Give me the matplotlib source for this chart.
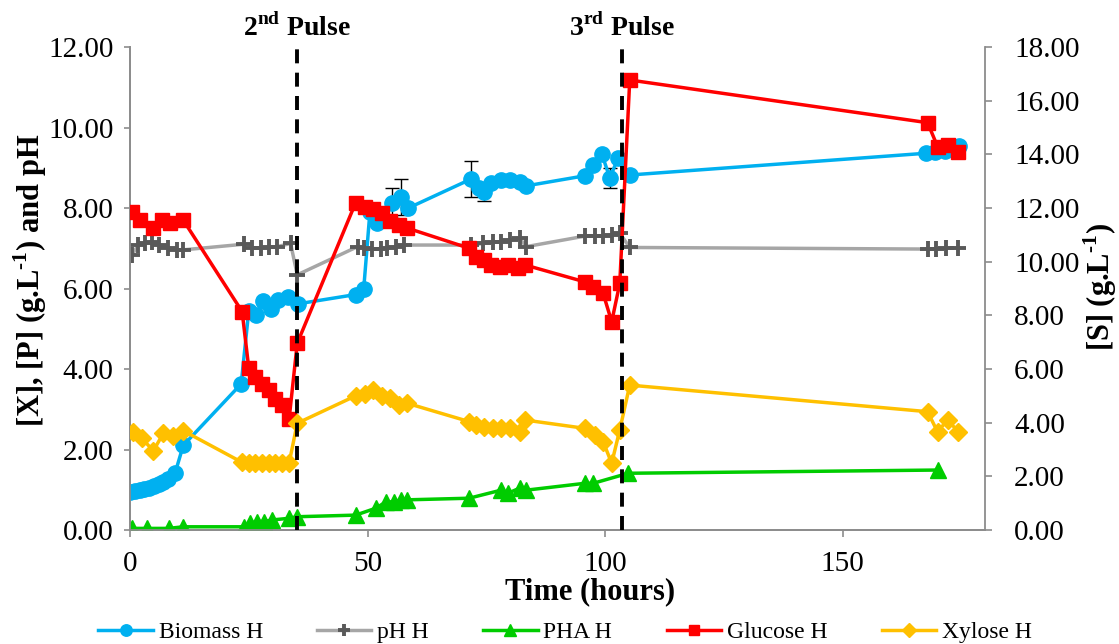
import numpy as np
import matplotlib
matplotlib.use("Agg")
from matplotlib import pyplot as plt
from matplotlib.transforms import blended_transform_factory

plt.rcParams["font.family"] = ["Liberation Serif", "DejaVu Serif"]
plt.rcParams["mathtext.fontset"] = "custom"
plt.rcParams["mathtext.rm"] = "Liberation Serif:bold"
plt.rcParams["mathtext.bf"] = "Liberation Serif:bold"

# ------------------------------------------------------------------------------
#  Fermentation data, reactor H
# ------------------------------------------------------------------------------
# Biomass [X] (g/L), left axis
t_bio = [0, 1, 2, 3, 4, 5, 6, 7, 8, 9.5, 11.2,
         23.4, 25.0, 26.6, 28.0, 29.6, 31.2, 33.2, 35.4,
         47.5, 49.2, 50.5, 52.0, 55.2, 57.0, 58.6,
         71.8, 73.4, 74.6, 76.0, 78.0, 80.0, 82.0, 83.4,
         95.7, 97.5, 99.3, 101.0, 102.8, 105.2,
         167.5, 169.5, 171.5, 174.5]
biomass = [0.95, 0.97, 1.00, 1.02, 1.05, 1.10, 1.15, 1.20, 1.27, 1.42, 2.10,
           3.63, 5.45, 5.35, 5.70, 5.50, 5.72, 5.80, 5.62,
           5.85, 6.00, 7.90, 7.62, 8.12, 8.27, 8.00,
           8.72, 8.50, 8.40, 8.62, 8.70, 8.70, 8.65, 8.55,
           8.80, 9.07, 9.35, 8.75, 9.25, 8.82,
           9.36, 9.38, 9.42, 9.55]
biomass_err = [0, 0, 0, 0, 0, 0, 0, 0, 0, 0, 0,
               0, 0, 0, 0, 0, 0, 0, 0,
               0, 0, 0, 0, 0.38, 0.45, 0,
               0.45, 0, 0.22, 0, 0, 0, 0, 0,
               0, 0, 0, 0.25, 0, 0,
               0, 0, 0, 0]

# pH, left axis
t_ph = [0.4, 1.7, 3.2, 4.6, 6.0, 8.0, 9.9, 11.2,
        23.9, 25.7, 27.5, 29.2, 31.0, 33.8, 35.2,
        47.9, 49.3, 51.0, 52.8, 54.2, 56.0, 57.7,
        71.8, 74.3, 76.4, 78.1, 79.9, 82.0, 83.4,
        95.7, 97.8, 99.6, 101.4, 103.1, 105.2,
        167.9, 169.6, 171.7, 174.2]
ph = [6.83, 7.08, 7.12, 7.16, 7.08, 7.00, 6.96, 6.96,
      7.10, 7.00, 7.00, 7.02, 7.04, 7.12, 6.34,
      7.04, 7.00, 6.98, 6.98, 7.00, 7.04, 7.08,
      7.08, 7.12, 7.16, 7.16, 7.20, 7.25, 7.04,
      7.30, 7.30, 7.30, 7.33, 7.37, 7.02,
      6.98, 6.98, 7.00, 7.00]

# PHA [P] (g/L), left axis
t_pha = [0.5, 3.5, 8.1, 11.2,
         23.9, 25.3, 26.7, 28.2, 29.9, 33.4, 35.2,
         47.5, 51.7, 53.9, 55.6, 57.0, 58.4,
         71.4, 78.1, 79.5, 82.0, 83.4,
         95.7, 97.5, 104.9, 170.0]
pha = [0.04, 0.04, 0.04, 0.08,
       0.08, 0.17, 0.21, 0.21, 0.25, 0.29, 0.33,
       0.37, 0.54, 0.70, 0.70, 0.75, 0.75,
       0.79, 0.99, 0.91, 1.04, 0.99,
       1.16, 1.16, 1.41, 1.49]

# Glucose [S] (g/L), right axis
t_glc = [0.4, 2.1, 4.9, 6.7, 8.4, 11.2,
         23.6, 25.0, 26.4, 27.8, 29.2, 30.6, 32.0, 33.5, 35.2,
         47.5, 49.4, 51.2, 53.0, 54.8, 56.6, 58.4,
         71.4, 72.9, 74.6, 76.0, 77.8, 79.6, 81.7, 83.1,
         95.7, 97.5, 99.6, 101.4, 103.1, 105.2,
         167.9, 170.0, 172.1, 174.2]
glucose = [11.86, 11.55, 11.25, 11.55, 11.43, 11.55,
           8.14, 6.03, 5.71, 5.45, 5.20, 4.90, 4.65, 4.15, 6.96,
           12.20, 12.05, 11.95, 11.80, 11.50, 11.35, 11.25,
           10.50, 10.19, 10.06, 9.88, 9.81, 9.88, 9.75, 9.88,
           9.25, 9.07, 8.82, 7.76, 9.19, 16.77,
           15.18, 14.29, 14.35, 14.10]

# Xylose [S] (g/L), right axis
t_xyl = [0.7, 2.5, 4.9, 7.0, 9.1, 11.2,
         23.6, 25.0, 26.4, 27.8, 29.2, 30.6, 32.0, 33.5, 35.2,
         47.5, 49.4, 51.2, 53.0, 54.8, 56.6, 58.4,
         71.4, 72.9, 74.6, 76.4, 78.1, 79.9, 82.0, 83.1,
         95.7, 97.8, 99.6, 101.4, 103.1, 105.2,
         167.9, 170.0, 172.1, 174.4]
xylose = [3.66, 3.42, 2.95, 3.60, 3.50, 3.70,
          2.52, 2.50, 2.50, 2.50, 2.50, 2.50, 2.50, 2.50, 3.98,
          5.00, 5.08, 5.20, 5.00, 4.92, 4.65, 4.72,
          4.04, 3.91, 3.85, 3.79, 3.79, 3.79, 3.66, 4.10,
          3.79, 3.54, 3.29, 2.49, 3.73, 5.40,
          4.41, 3.66, 4.10, 3.66]

# Substrate pulses (hours)
pulse_times = [35.1, 103.5]
pulse_labels = ["2$^{\\mathbf{nd}}$ Pulse", "3$^{\\mathbf{rd}}$ Pulse"]

# ------------------------------------------------------------------------------
#  Plot
# ------------------------------------------------------------------------------
fig, ax = plt.subplots(figsize=(11.19, 6.44), dpi=100)
fig.subplots_adjust(left=0.1162, right=0.8803, bottom=0.177, top=0.927)
ax2 = ax.twinx()

lw = 2.5
l_bio, = ax.plot(t_bio, biomass, "-o", color="#00B0F0", lw=lw, ms=11,
                 label="Biomass H", zorder=3)
err = np.array(biomass_err)
m = err > 0
ax.errorbar(np.array(t_bio)[m], np.array(biomass)[m], yerr=err[m], fmt="none",
            ecolor="black", elinewidth=1, capsize=5, capthick=1, zorder=2)
l_ph, = ax.plot(t_ph, ph, "-+", color="#A6A6A6", mec="#595959", lw=lw, ms=12,
                mew=2.8, label="pH H", zorder=3)
l_pha, = ax.plot(t_pha, pha, "-^", color="#00CC00", lw=lw, ms=11,
                 label="PHA H", zorder=3)
l_glc, = ax2.plot(t_glc, glucose, "-s", color="#FF0000", lw=lw, ms=10.5,
                  label="Glucose H", zorder=3)
l_xyl, = ax2.plot(t_xyl, xylose, "-D", color="#FFC000", lw=lw, ms=9,
                  label="Xylose H", zorder=3)

trans = blended_transform_factory(ax.transData, ax.transAxes)
for tp, lab in zip(pulse_times, pulse_labels):
    ax2.axvline(tp, ymin=0, ymax=1.005, color="black", lw=2.8,
                ls=(0, (3.6, 2.4)), zorder=5, clip_on=False)
    ax.text(tp, 1.022, lab, transform=trans, ha="center", va="baseline",
            fontsize=20, fontweight="bold")

ax.set_xlim(0, 180)
ax.set_ylim(0, 12)
ax2.set_ylim(0, 18)
ax.set_xticks([0, 50, 100, 150])
ax.set_yticks(np.arange(0, 12.1, 2))
ax2.set_yticks(np.arange(0, 18.1, 2))
ax.yaxis.set_major_formatter("{x:.2f}")
ax2.yaxis.set_major_formatter("{x:.2f}")

grey = "#8C8C8C"
for a in (ax, ax2):
    a.spines["top"].set_visible(False)
    for s in ("left", "right", "bottom"):
        a.spines[s].set_color(grey)
        a.spines[s].set_linewidth(1.3)
ax.spines["right"].set_visible(False)
ax.tick_params(axis="y", length=4, width=1.2, color=grey, pad=8, labelsize=21)
ax.tick_params(axis="x", length=5, width=1.2, color=grey, pad=10, labelsize=21)
ax2.tick_params(axis="y", length=5, width=1.2, color=grey, pad=16, labelsize=21)

fig.text(590 / 1119, 1 - 592 / 644, "Time (hours)", ha="center", va="center",
         fontsize=22, fontweight="bold")
fig.text(30 / 1119, 1 - 280 / 644, "[X], [P] (g.L$^{\\text{-1}}$) and pH",
         rotation=90, ha="center", va="center", fontsize=22, fontweight="bold")
fig.text(1100 / 1119, 1 - 287 / 644, "[S] (g.L$^{\\text{-1}}$)",
         rotation=90, ha="center", va="center", fontsize=22, fontweight="bold")

handles = [l_bio, l_ph, l_pha, l_glc, l_xyl]
fig.legend(handles, [h.get_label() for h in handles], loc="center",
           bbox_to_anchor=(565 / 1119, 1 - 632 / 644), ncol=5, frameon=False,
           fontsize=17, handlelength=2.3, handletextpad=0.25,
           columnspacing=2.3, markerscale=0.75)

fig.savefig("out.png", dpi=100)
